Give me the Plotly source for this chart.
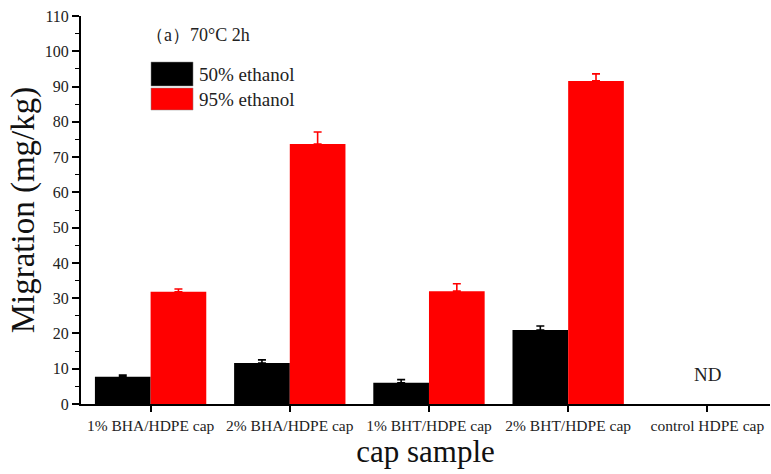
import plotly.graph_objects as go

categories = ["1% BHA/HDPE cap", "2% BHA/HDPE cap", "1% BHT/HDPE cap",
              "2% BHT/HDPE cap", "control HDPE cap"]
series_names = ["50% ethanol", "95% ethanol"]
ethanol50 = [7.7, 11.6, 6.0, 21.0, None]
ethanol50_err = [0.5, 0.9, 0.9, 1.1, None]
ethanol95 = [31.8, 73.7, 32.0, 91.6, None]
ethanol95_err = [0.8, 3.4, 2.1, 2.0, None]
colors = ["#000000", "#ff0000"]
y_ticks = list(range(0, 111, 10))

FONT = "Liberation Serif"

fig = go.Figure()
for name, vals, errs, col in [(series_names[0], ethanol50, ethanol50_err, colors[0]),
                              (series_names[1], ethanol95, ethanol95_err, colors[1])]:
    fig.add_trace(go.Bar(
        x=list(range(len(categories))), y=vals, name=name,
        marker=dict(color=col, line=dict(width=0)),
        error_y=dict(type="data", array=errs, arrayminus=[0] * len(errs),
                     symmetric=False, color=col, thickness=1.6, width=4),
        showlegend=False,
    ))

fig.update_layout(
    width=771, height=474,
    margin=dict(l=81, r=1, t=16, b=70),
    paper_bgcolor="white", plot_bgcolor="white",
    barmode="group", bargap=0.2, bargroupgap=0,
    font=dict(family=FONT, color="#222222"),
    xaxis=dict(
        tickmode="array", tickvals=list(range(len(categories))), ticktext=categories,
        range=[-0.5, 4.45], showgrid=False, zeroline=False,
        showline=True, linecolor="black", linewidth=2,
        ticks="outside", ticklen=6, tickwidth=1.5, tickcolor="black",
        tickfont=dict(family=FONT, size=15.5, color="#222222"),
        title=dict(text="cap sample", font=dict(family=FONT, size=31, color="#111111"),
                   standoff=8),
    ),
    yaxis=dict(
        range=[0, 110], tickvals=y_ticks, showgrid=False, zeroline=False,
        showline=True, linecolor="black", linewidth=2,
        ticks="outside", ticklen=7, tickwidth=1.5, tickcolor="black",
        minor=dict(dtick=5, ticks="outside", ticklen=4, tickwidth=1, tickcolor="black"),
        tickfont=dict(family=FONT, size=16, color="#222222"),
        title=dict(text="Migration (mg/kg)", font=dict(family=FONT, size=33, color="#111111"),
                   standoff=0),
    ),
)

# Manual legend (large swatches like the original)
legend_rows = [(0.8196, 0.8814, 0.8505), (0.7577, 0.8144, 0.786)]
for (y0, y1, yc), name, col in zip(legend_rows, series_names, colors):
    fig.add_shape(type="rect", xref="paper", yref="paper", x0=0.1016, x1=0.1626,
                  y0=y0, y1=y1, fillcolor=col, line=dict(color="#888888", width=0.5))
    fig.add_annotation(xref="paper", yref="paper", x=0.169, y=yc, text=name,
                       showarrow=False, xanchor="left", yanchor="middle",
                       font=dict(family=FONT, size=19, color="#222222"))

fig.add_annotation(xref="paper", yref="paper", x=0.092, y=0.951, text="（a）70°C 2h",
                   showarrow=False, xanchor="left", yanchor="middle",
                   font=dict(family=FONT, size=18, color="#222222"))
fig.add_annotation(x=4, y=8.5, xref="x", yref="y", text="ND", showarrow=False,
                   font=dict(family=FONT, size=19, color="#222222"))

fig.write_html("out.html")
